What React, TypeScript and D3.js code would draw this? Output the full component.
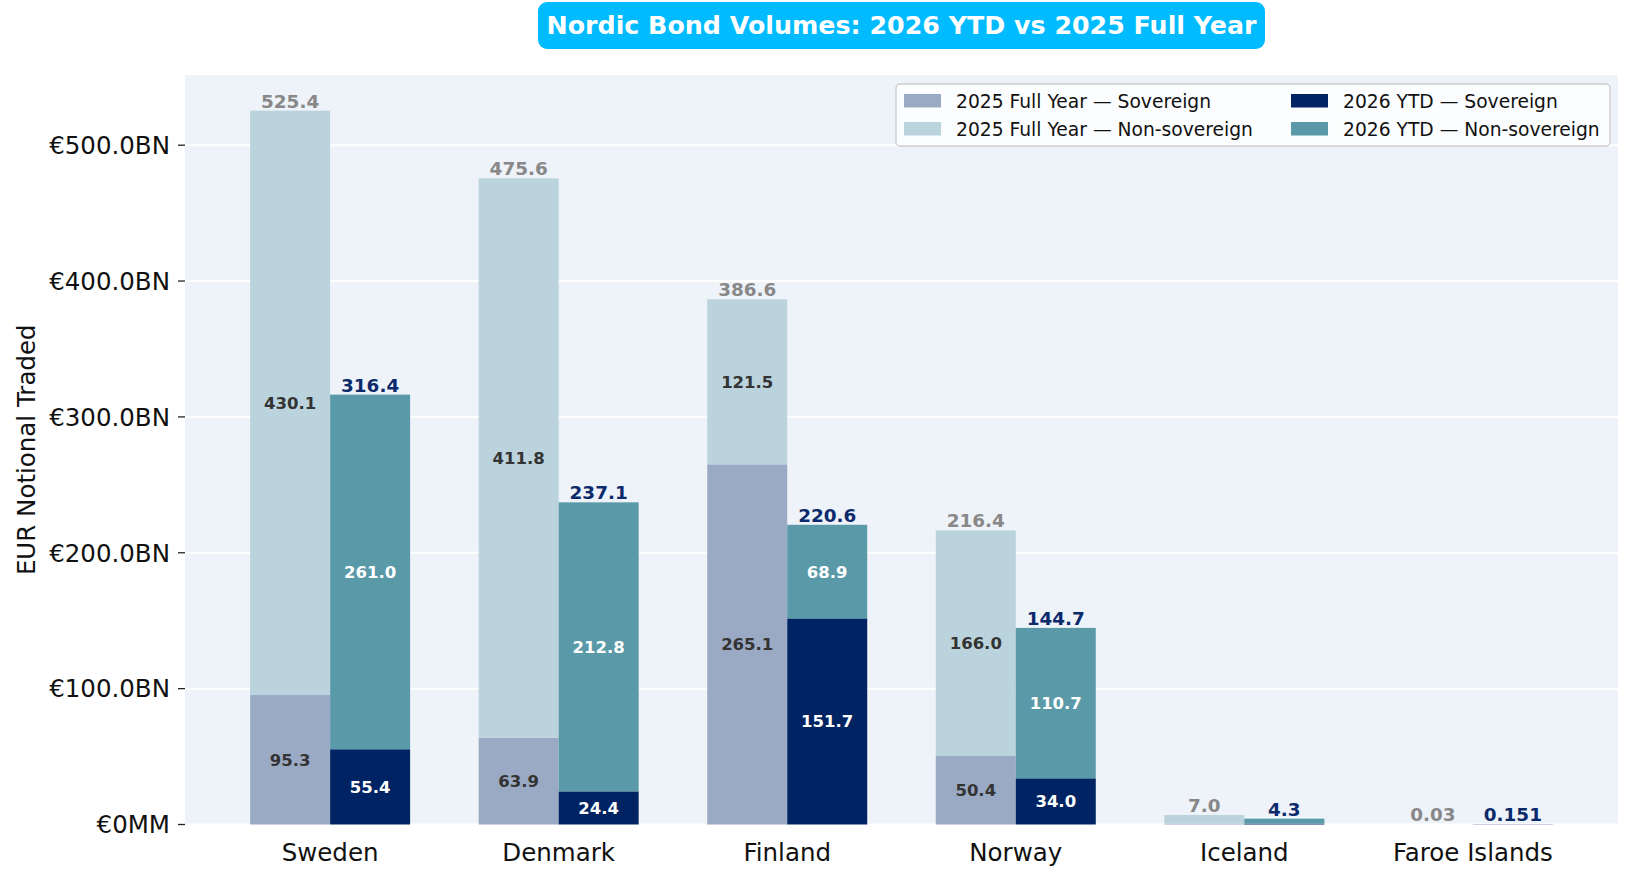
import { useEffect, useRef } from 'react';
import * as d3 from 'd3';

const countries = ['Sweden', 'Denmark', 'Finland', 'Norway', 'Iceland', 'Faroe Islands'];
const fy2025Sovereign = [95.3, 63.86, 265.1, 50.4, 0.5, 0];
const fy2025NonSovereign = [430.1, 411.78, 121.5, 166.0, 6.5, 0.03];
const ytd2026Sovereign = [55.4, 24.38, 151.7, 34.0, 0.6, 0.151];
const ytd2026NonSovereign = [261.0, 212.75, 68.9, 110.7, 3.7, 0];
const yTicks = [0, 100, 200, 300, 400, 500];

const legendItems = [
  { label: '2025 Full Year — Sovereign', color: '#9baac4' },
  { label: '2025 Full Year — Non-sovereign', color: '#bad3dc' },
  { label: '2026 YTD — Sovereign', color: '#002463' },
  { label: '2026 YTD — Non-sovereign', color: '#5a9aa8' },
];

const FONT = '"DejaVu Sans", Verdana, sans-serif';

export default function App() {
  const ref = useRef<SVGSVGElement>(null);

  useEffect(() => {
    if (!ref.current) return;
    const svg = d3.select(ref.current);
    svg.selectAll('*').remove();

    const width = 1632;
    const height = 879;
    const plot = { left: 185, right: 1618, top: 75, bottom: 824.5 };

    svg.attr('width', width).attr('height', height).style('font-family', FONT);

    const totals25 = countries.map((_, i) => fy2025Sovereign[i] + fy2025NonSovereign[i]);
    const totals26 = countries.map((_, i) => ytd2026Sovereign[i] + ytd2026NonSovereign[i]);
    const yMax = (d3.max([...totals25, ...totals26]) || 0) * 1.05;

    // matplotlib-like numeric x axis: bar width 0.35, 5% margins
    const barW = 0.35;
    const span = countries.length - 1 + 2 * barW;
    const x = d3.scaleLinear()
      .domain([-barW - 0.05 * span, countries.length - 1 + barW + 0.05 * span])
      .range([plot.left, plot.right]);
    const y = d3.scaleLinear().domain([0, yMax]).range([plot.bottom, plot.top]);
    const bw = x(barW) - x(0);

    // background
    svg.append('rect')
      .attr('x', plot.left).attr('y', plot.top)
      .attr('width', plot.right - plot.left).attr('height', plot.bottom - plot.top)
      .attr('fill', '#eef2f9');

    // grid
    svg.append('g').selectAll('line').data(yTicks).enter().append('line')
      .attr('x1', plot.left).attr('x2', plot.right)
      .attr('y1', d => y(d)).attr('y2', d => y(d))
      .attr('stroke', '#ffffff').attr('stroke-width', 2);

    // y ticks
    const yAxis = svg.append('g');
    yTicks.forEach(t => {
      yAxis.append('line')
        .attr('x1', plot.left - 7).attr('x2', plot.left)
        .attr('y1', y(t)).attr('y2', y(t))
        .attr('stroke', '#222').attr('stroke-width', 1.3);
      yAxis.append('text')
        .attr('x', plot.left - 15).attr('y', y(t)).attr('dy', '0.36em')
        .attr('text-anchor', 'end').attr('font-size', 24.5).attr('fill', '#111')
        .text(t === 0 ? '€0MM' : `€${t.toFixed(1)}BN`);
    });

    svg.append('text')
      .attr('transform', `translate(35,${(plot.top + plot.bottom) / 2}) rotate(-90)`)
      .attr('text-anchor', 'middle').attr('font-size', 24.5).attr('fill', '#111')
      .text('EUR Notional Traded');

    // bars
    const fmtTotal = (v: number) => (v < 1 ? d3.format('.3~g')(v) : v.toFixed(1));
    const bars = svg.append('g');
    countries.forEach((c, i) => {
      const groups = [
        { xc: i - barW / 2, sov: fy2025Sovereign[i], non: fy2025NonSovereign[i], total: totals25[i],
          sc: '#9baac4', nc: '#bad3dc', inner: '#333333', top: '#888888' },
        { xc: i + barW / 2, sov: ytd2026Sovereign[i], non: ytd2026NonSovereign[i], total: totals26[i],
          sc: '#002463', nc: '#5a9aa8', inner: '#ffffff', top: '#0b2a6b' },
      ];
      groups.forEach(g => {
        const left = x(g.xc) - bw / 2;
        bars.append('rect')
          .attr('x', left).attr('width', bw)
          .attr('y', y(g.sov)).attr('height', y(0) - y(g.sov))
          .attr('fill', g.sc);
        bars.append('rect')
          .attr('x', left).attr('width', bw)
          .attr('y', y(g.sov + g.non)).attr('height', y(g.sov) - y(g.sov + g.non))
          .attr('fill', g.nc);
        if (g.sov >= 10) {
          bars.append('text')
            .attr('x', x(g.xc)).attr('y', y(g.sov / 2)).attr('dy', '0.36em')
            .attr('text-anchor', 'middle').attr('font-size', 16.5).attr('font-weight', 'bold')
            .attr('fill', g.inner).text(g.sov.toFixed(1));
        }
        if (g.non >= 10) {
          bars.append('text')
            .attr('x', x(g.xc)).attr('y', y(g.sov + g.non / 2)).attr('dy', '0.36em')
            .attr('text-anchor', 'middle').attr('font-size', 16.5).attr('font-weight', 'bold')
            .attr('fill', g.inner).text(g.non.toFixed(1));
        }
        bars.append('text')
          .attr('x', x(g.xc)).attr('y', y(g.total) - 3)
          .attr('text-anchor', 'middle').attr('font-size', 18.4).attr('font-weight', 'bold')
          .attr('fill', g.top).text(fmtTotal(g.total));
      });
      svg.append('text')
        .attr('x', x(i)).attr('y', 861)
        .attr('text-anchor', 'middle').attr('font-size', 24.5).attr('fill', '#111')
        .text(c);
    });

    // legend
    const lg = svg.append('g');
    lg.append('rect')
      .attr('x', 896).attr('y', 84).attr('width', 714).attr('height', 62)
      .attr('rx', 4).attr('fill', 'rgba(255,255,255,0.8)')
      .attr('stroke', '#cccccc').attr('stroke-width', 1.3);
    legendItems.forEach((item, k) => {
      const col = k < 2 ? 0 : 1;
      const row = k % 2;
      const sx = col === 0 ? 904 : 1291;
      const cy = row === 0 ? 101 : 129;
      lg.append('rect')
        .attr('x', sx).attr('y', cy - 7).attr('width', 37).attr('height', 13.5)
        .attr('fill', item.color);
      lg.append('text')
        .attr('x', sx + 52).attr('y', cy).attr('dy', '0.36em')
        .attr('font-size', 18.7).attr('fill', '#111').text(item.label);
    });

    // title
    const titleCx = (plot.left + plot.right) / 2;
    svg.append('rect')
      .attr('x', titleCx - 363.5).attr('y', 2).attr('width', 727).attr('height', 47)
      .attr('rx', 9).attr('fill', '#00bbff');
    svg.append('text')
      .attr('x', titleCx).attr('y', 34)
      .attr('text-anchor', 'middle').attr('font-size', 25.3).attr('font-weight', 'bold')
      .attr('fill', '#ffffff')
      .text('Nordic Bond Volumes: 2026 YTD vs 2025 Full Year');
  }, []);

  return (
    <div style={{ position: 'absolute', left: 0, top: 0 }}>
      <svg ref={ref}></svg>
    </div>
  );
}
